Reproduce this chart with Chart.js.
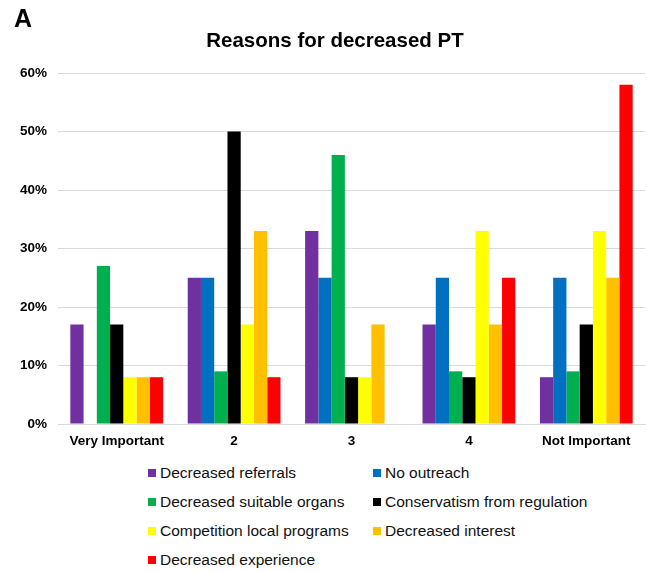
<!DOCTYPE html>
<html>
<head>
<meta charset="utf-8">
<script src="https://cdn.jsdelivr.net/npm/chart.js@4.4.1/dist/chart.umd.min.js"></script>
<style>
  html, body { margin: 0; padding: 0; background: #fff; }
  body { width: 647px; height: 572px; position: relative; overflow: hidden;
         font-family: "Liberation Sans", Arial, sans-serif; color: #000; }
  #panel { position: absolute; left: 14px; top: 3px; font-size: 25px; font-weight: bold; line-height: 30px; }
  #title { position: absolute; left: 135px; width: 400px; top: 28px; text-align: center;
           font-size: 20.5px; font-weight: bold; line-height: 24px; }
  #chartBox { position: absolute; left: 0; top: 0; width: 647px; height: 450px; }
  .legend-item { position: absolute; display: flex; align-items: center; height: 20px;
                 font-size: 15.5px; line-height: 20px; color: #111; white-space: nowrap; }
  .legend-item .sw { width: 8px; height: 8px; margin-right: 4px; flex: none; }
</style>
</head>
<body>
<div id="chartBox"><canvas id="c" width="647" height="450"></canvas></div>
<div id="panel">A</div>
<div id="title">Reasons for decreased PT</div>
<div id="legend"></div>
<script>
// Importance rating categories
const categories = ["Very Important", "2", "3", "4", "Not Important"];

// Share of respondents (%) per reason
const decreasedReferrals      = [17, 25, 33, 17, 8];
const noOutreach              = [0, 25, 25, 25, 25];
const decreasedSuitableOrgans = [27, 9, 46, 9, 9];
const conservatismRegulation  = [17, 50, 8, 8, 17];
const competitionLocal        = [8, 17, 8, 33, 33];
const decreasedInterest       = [8, 33, 17, 17, 25];
const decreasedExperience     = [8, 8, 0, 25, 58];

const seriesNames = [
  "Decreased referrals", "No outreach", "Decreased suitable organs",
  "Conservatism from regulation", "Competition local programs",
  "Decreased interest", "Decreased experience"
];
const seriesValues = [
  decreasedReferrals, noOutreach, decreasedSuitableOrgans,
  conservatismRegulation, competitionLocal, decreasedInterest, decreasedExperience
];
const seriesColors = ["#7030a0", "#0070c0", "#00b050", "#000000", "#ffff00", "#ffc000", "#ff0000"];

const yTicks = [0, 10, 20, 30, 40, 50, 60];

const datasets = seriesNames.map((name, i) => ({
  label: name,
  data: seriesValues[i],
  backgroundColor: seriesColors[i],
  borderWidth: 0,
  categoryPercentage: 0.79,
  barPercentage: 1.0
}));

const tickFont = { family: "'Liberation Sans', Arial, sans-serif", size: 13.5, weight: 'bold' };

new Chart(document.getElementById('c'), {
  type: 'bar',
  data: { labels: categories, datasets },
  options: {
    responsive: false,
    animation: false,
    layout: { padding: { top: 73, right: 2, left: 0, bottom: 0 } },
    plugins: { legend: { display: false }, title: { display: false }, tooltip: { enabled: false } },
    scales: {
      x: {
        grid: { display: false, drawTicks: false },
        border: { display: true, color: '#d9d9d9', width: 1 },
        ticks: { color: '#000', font: tickFont, padding: 9, maxRotation: 0, autoSkip: false },
        afterFit: s => { s.height = 26; }
      },
      y: {
        min: yTicks[0],
        max: yTicks[yTicks.length - 1],
        afterBuildTicks: s => { s.ticks = yTicks.map(v => ({ value: v })); },
        grid: { color: '#d9d9d9', lineWidth: 1, drawTicks: false },
        border: { display: false },
        ticks: { color: '#000', font: tickFont, padding: 11, callback: v => v + '%' },
        afterFit: s => { s.width = 58; }
      }
    }
  }
});

// Two-column legend below the plot
const legend = document.getElementById('legend');
const colX = [148, 373];
const rowY = [473, 502, 531, 560];
seriesNames.forEach((name, i) => {
  const item = document.createElement('div');
  item.className = 'legend-item';
  item.style.left = colX[i % 2] + 'px';
  item.style.top = (rowY[Math.floor(i / 2)] - 10) + 'px';
  const sw = document.createElement('span');
  sw.className = 'sw';
  sw.style.background = seriesColors[i];
  item.appendChild(sw);
  item.appendChild(document.createTextNode(name));
  legend.appendChild(item);
});
</script>
</body>
</html>
